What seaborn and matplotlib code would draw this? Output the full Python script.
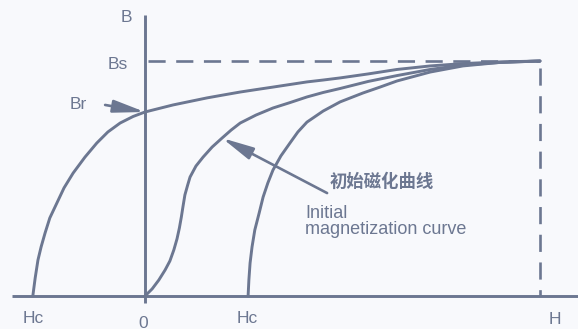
import matplotlib
matplotlib.use("Agg")
import matplotlib.pyplot as plt
import seaborn as sns
import pandas as pd

# Hysteresis loop sketch in normalised units (Hs = 1, Bs = 1)
Hs, Bs = 1.0, 1.0
Br = 0.783          # remanence
Hc_pos = 0.261      # coercive field, ascending branch
Hc_neg = -0.284     # coercive field, descending branch

# Descending branch: saturation -> Br -> -Hc
desc_H = [1.000, 0.899, 0.805, 0.722, 0.638, 0.565, 0.494, 0.451, 0.410, 0.367,
          0.324, 0.284, 0.241, 0.197, 0.157, 0.114, 0.071, 0.000, -0.030, -0.063,
          -0.094, -0.122, -0.152, -0.182, -0.205, -0.223, -0.241, -0.253, -0.263,
          -0.271, -0.278, Hc_neg]
desc_B = [1.000, 0.996, 0.989, 0.979, 0.964, 0.945, 0.928, 0.919, 0.911, 0.900,
          0.889, 0.879, 0.868, 0.855, 0.843, 0.828, 0.813, Br, 0.764, 0.736,
          0.698, 0.651, 0.591, 0.523, 0.460, 0.396, 0.332, 0.268, 0.209,
          0.153, 0.077, 0.000]

# Initial magnetization curve from the origin
init_H = [0.000, 0.018, 0.035, 0.051, 0.063, 0.073, 0.081, 0.087, 0.092, 0.096,
          0.101, 0.108, 0.114, 0.129, 0.147, 0.170, 0.195, 0.218, 0.241, 0.281,
          0.324, 0.367, 0.410, 0.451, 0.494, 0.565, 0.638, 0.722, 0.805, 0.899,
          1.000]
init_B = [0.000, 0.030, 0.068, 0.111, 0.149, 0.196, 0.243, 0.289, 0.336, 0.379,
          0.430, 0.472, 0.506, 0.553, 0.591, 0.634, 0.672, 0.706, 0.736, 0.770,
          0.800, 0.823, 0.847, 0.866, 0.883, 0.913, 0.938, 0.964, 0.983, 0.994,
          1.000]

# Ascending branch: +Hc -> saturation
asc_H = [Hc_pos, 0.263, 0.266, 0.271, 0.278, 0.289, 0.299, 0.311, 0.324, 0.344,
         0.367, 0.387, 0.410, 0.451, 0.494, 0.552, 0.595, 0.638, 0.722, 0.805,
         0.899, 1.000]
asc_B = [0.000, 0.068, 0.140, 0.209, 0.281, 0.353, 0.421, 0.481, 0.536, 0.596,
         0.651, 0.698, 0.740, 0.787, 0.826, 0.864, 0.889, 0.915, 0.953, 0.979,
         0.994, 1.000]

curves = pd.concat([
    pd.DataFrame({"H": desc_H, "B": desc_B, "curve": "descending"}),
    pd.DataFrame({"H": init_H, "B": init_B, "curve": "initial"}),
    pd.DataFrame({"H": asc_H, "B": asc_B, "curve": "ascending"}),
], ignore_index=True)

ink = "#6c7791"
bg = "#f8f9fc"

sns.set_theme(style="white")
plt.rcParams["font.family"] = ["Liberation Sans", "Noto Sans CJK SC", "DejaVu Sans"]

fig = plt.figure(figsize=(5.78, 3.29), dpi=100, facecolor=bg)
ax = fig.add_axes([0, 0, 1, 1], facecolor=bg)

# Axes
ax.plot([-0.337, 1.096], [0, 0], color=ink, lw=2.1, solid_capstyle="butt")
ax.plot([0, 0], [-0.030, 1.196], color=ink, lw=2.1, solid_capstyle="butt")

# Saturation guides
ax.plot([0.008, Hs], [Bs, Bs], color=ink, lw=1.9, ls=(0, (6.5, 4)))
ax.plot([Hs, Hs], [0.97, 0.0], color=ink, lw=1.9, ls=(0, (6.5, 4)))

sns.lineplot(data=curves, x="H", y="B", units="curve", estimator=None,
             sort=False, color=ink, lw=2.1, ax=ax, legend=False,
             solid_joinstyle="round", solid_capstyle="round")
ax.set_xlim(-145 / 395, 433 / 395)
ax.set_ylim(-33 / 235, 296 / 235)
ax.axis("off")

arrow = dict(arrowstyle="-|>,head_length=1.9,head_width=0.38",
             color=ink, lw=1.9, shrinkA=0, shrinkB=0, mutation_scale=10)
ax.annotate("", xy=(0, Br), xytext=(-0.101, 0.813), arrowprops=arrow)
ax.annotate("", xy=(0.195, 0.672), xytext=(0.461, 0.438), arrowprops=arrow)

fs = 12.5
ax.text(-0.048, 1.183, "B", color=ink, fontsize=fs, ha="center", va="center")
ax.text(-0.068, 0.987, "Bs", color=ink, fontsize=fs, ha="center", va="center")
ax.text(-0.170, 0.813, "Br", color=ink, fontsize=fs, ha="center", va="center")
ax.text(Hc_neg, -0.094, "Hc", color=ink, fontsize=fs, ha="center", va="center")
ax.text(-0.005, -0.115, "0", color=ink, fontsize=fs, ha="center", va="center")
ax.text(0.258, -0.094, "Hc", color=ink, fontsize=fs, ha="center", va="center")
ax.text(1.038, -0.102, "H", color=ink, fontsize=fs, ha="center", va="center")

ax.text(0.600, 0.485, "初始磁化曲线", color=ink, fontsize=12.5,
        ha="center", va="center", family=["Noto Sans CJK SC", "DejaVu Sans"],
        fontweight="bold")
ax.text(0.405, 0.353, "Initial", color=ink, fontsize=13, ha="left", va="center")
ax.text(0.405, 0.281, "magnetization curve", color=ink, fontsize=13,
        ha="left", va="center")

fig.savefig("out.png", dpi=100, facecolor=bg)
